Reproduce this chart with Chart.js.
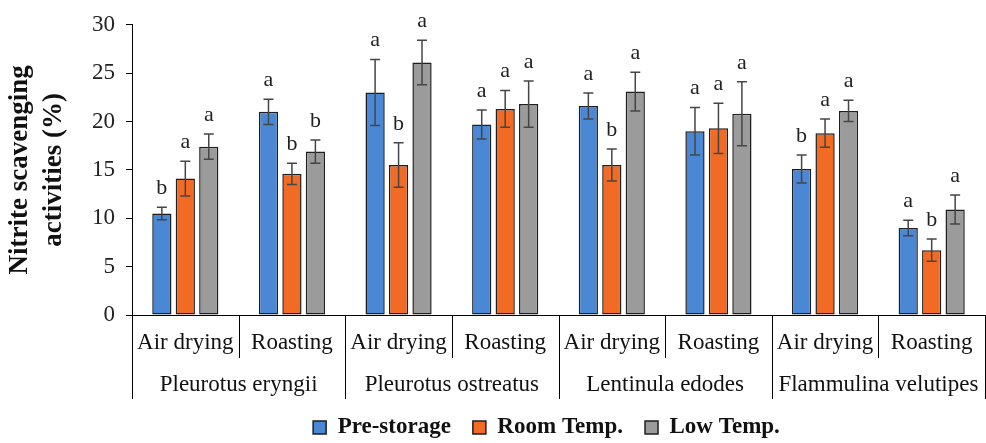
<!DOCTYPE html>
<html>
<head>
<meta charset="utf-8">
<script src="https://cdn.jsdelivr.net/npm/chart.js@4.4.1/dist/chart.umd.min.js"></script>
<style>
  html, body { margin: 0; padding: 0; background: #fff; }
  #wrap { width: 986px; height: 443px; }
</style>
</head>
<body>
<div id="wrap"><canvas id="chart"></canvas></div>
<script>
// ---------- DATA ----------
const methods = ["Air drying", "Roasting", "Air drying", "Roasting", "Air drying", "Roasting", "Air drying", "Roasting"];
const species = ["Pleurotus eryngii", "Pleurotus ostreatus", "Lentinula edodes", "Flammulina velutipes"];
const yTicks = [0, 5, 10, 15, 20, 25, 30];

const preStorage = [10.5, 21.0, 23.0, 19.7, 21.6, 19.0, 15.1, 9.0];
const preStorageErr = [0.65, 1.3, 3.4, 1.5, 1.35, 2.45, 1.45, 0.8];
const preStorageLetters = ["b", "a", "a", "a", "a", "a", "b", "a"];

const roomTemp = [14.1, 14.6, 15.5, 21.3, 15.5, 19.3, 18.8, 6.7];
const roomTempErr = [1.8, 1.1, 2.3, 1.9, 1.65, 2.6, 1.45, 1.15];
const roomTempLetters = ["a", "b", "b", "a", "b", "a", "a", "b"];

const lowTemp = [17.4, 16.9, 26.1, 21.8, 23.1, 20.8, 21.1, 10.9];
const lowTempErr = [1.3, 1.2, 2.3, 2.4, 2.0, 3.3, 1.1, 1.5];
const lowTempLetters = ["a", "b", "a", "a", "a", "a", "a", "a"];

const FONT = "'Liberation Serif', 'Times New Roman', serif";

// ---------- PLUGINS ----------
// error bars + significance letters
const errorBars = {
  id: "errorBars",
  afterDatasetsDraw(chart) {
    const ctx = chart.ctx;
    const ys = chart.scales.y;
    ctx.save();
    chart.data.datasets.forEach((ds, d) => {
      const meta = chart.getDatasetMeta(d);
      meta.data.forEach((bar, i) => {
        const v = ds.data[i], e = ds.errors[i];
        const top = ys.getPixelForValue(v + e);
        const bot = ys.getPixelForValue(v - e);
        ctx.strokeStyle = "#454545";
        ctx.lineWidth = 1.5;
        ctx.beginPath();
        ctx.moveTo(bar.x, top); ctx.lineTo(bar.x, bot);
        ctx.moveTo(bar.x - 5, top); ctx.lineTo(bar.x + 5, top);
        ctx.moveTo(bar.x - 5, bot); ctx.lineTo(bar.x + 5, bot);
        ctx.stroke();
        ctx.fillStyle = "#222";
        ctx.font = "22px " + FONT;
        ctx.textAlign = "center";
        ctx.textBaseline = "bottom";
        ctx.fillText(ds.letters[i], bar.x, top - 8);
      });
    });
    ctx.restore();
  }
};

// two-level category axis
const groupAxis = {
  id: "groupAxis",
  afterDraw(chart) {
    const ctx = chart.ctx;
    const xs = chart.scales.x;
    const area = chart.chartArea;
    const step = xs.getPixelForValue(1) - xs.getPixelForValue(0);
    const b = area.bottom;
    ctx.save();
    ctx.strokeStyle = "#000";
    ctx.lineWidth = 1;
    for (let i = 0; i <= methods.length; i++) {
      const x = Math.round(area.left + i * step) + 0.5;
      ctx.beginPath();
      ctx.moveTo(x, b);
      ctx.lineTo(x, i % 2 === 0 ? b + 84 : b + 43);
      ctx.stroke();
    }
    ctx.fillStyle = "#111";
    ctx.font = "23px " + FONT;
    ctx.textAlign = "center";
    ctx.textBaseline = "middle";
    methods.forEach((m, i) => ctx.fillText(m, xs.getPixelForValue(i), b + 28));
    species.forEach((s, i) => ctx.fillText(s, area.left + (2 * i + 1) * step, b + 70));
    ctx.restore();
  }
};

// nudge legend to where the reference has it
const legendShift = {
  id: "legendShift",
  afterLayout(chart) {
    const lg = chart.legend;
    if (!lg) return;
    lg.top += 6; lg.bottom += 6;
    lg.left -= 12; lg.right -= 12;
  }
};

// ---------- CHART ----------
const barStyle = { borderColor: "#1e1e1e", borderWidth: 1.5, borderSkipped: false };

new Chart(document.getElementById("chart"), {
  type: "bar",
  data: {
    labels: methods,
    datasets: [
      { label: "Pre-storage", data: preStorage, errors: preStorageErr, letters: preStorageLetters,
        backgroundColor: "#4a87d4", ...barStyle },
      { label: "Room Temp.", data: roomTemp, errors: roomTempErr, letters: roomTempLetters,
        backgroundColor: "#f26b24", ...barStyle },
      { label: "Low Temp.", data: lowTemp, errors: lowTempErr, letters: lowTempLetters,
        backgroundColor: "#9b9b9b", ...barStyle }
    ]
  },
  options: {
    responsive: true,
    maintainAspectRatio: false,
    animation: false,
    categoryPercentage: 0.66,
    barPercentage: 0.82,
    layout: { padding: { top: 20, right: 1, left: 0, bottom: 0 } },
    plugins: {
      tooltip: { enabled: false },
      legend: {
        position: "bottom",
        fullSize: false,
        labels: {
          font: { family: FONT, size: 23, weight: "bold" },
          color: "#111",
          boxWidth: 13,
          boxHeight: 13,
          padding: 22
        }
      }
    },
    scales: {
      x: {
        grid: { display: false },
        border: { display: true, color: "#000", width: 1 },
        ticks: { display: false },
        afterFit: s => { s.height = 73; }
      },
      y: {
        min: 0,
        max: 30,
        afterBuildTicks: s => { s.ticks = yTicks.map(v => ({ value: v })); },
        grid: { display: true, drawOnChartArea: false, tickLength: 6, color: "#000" },
        border: { display: true, color: "#000", width: 1 },
        ticks: { font: { family: FONT, size: 23 }, color: "#222", padding: 11 },
        title: {
          display: true,
          text: ["Nitrite scavenging", "activities (%)"],
          font: { family: FONT, size: 27, weight: "bold", lineHeight: 1.27 },
          color: "#111",
          padding: { top: 3, bottom: 0 }
        },
        afterFit: s => { s.width = 132; }
      }
    }
  },
  plugins: [errorBars, groupAxis, legendShift]
});
</script>
</body>
</html>
